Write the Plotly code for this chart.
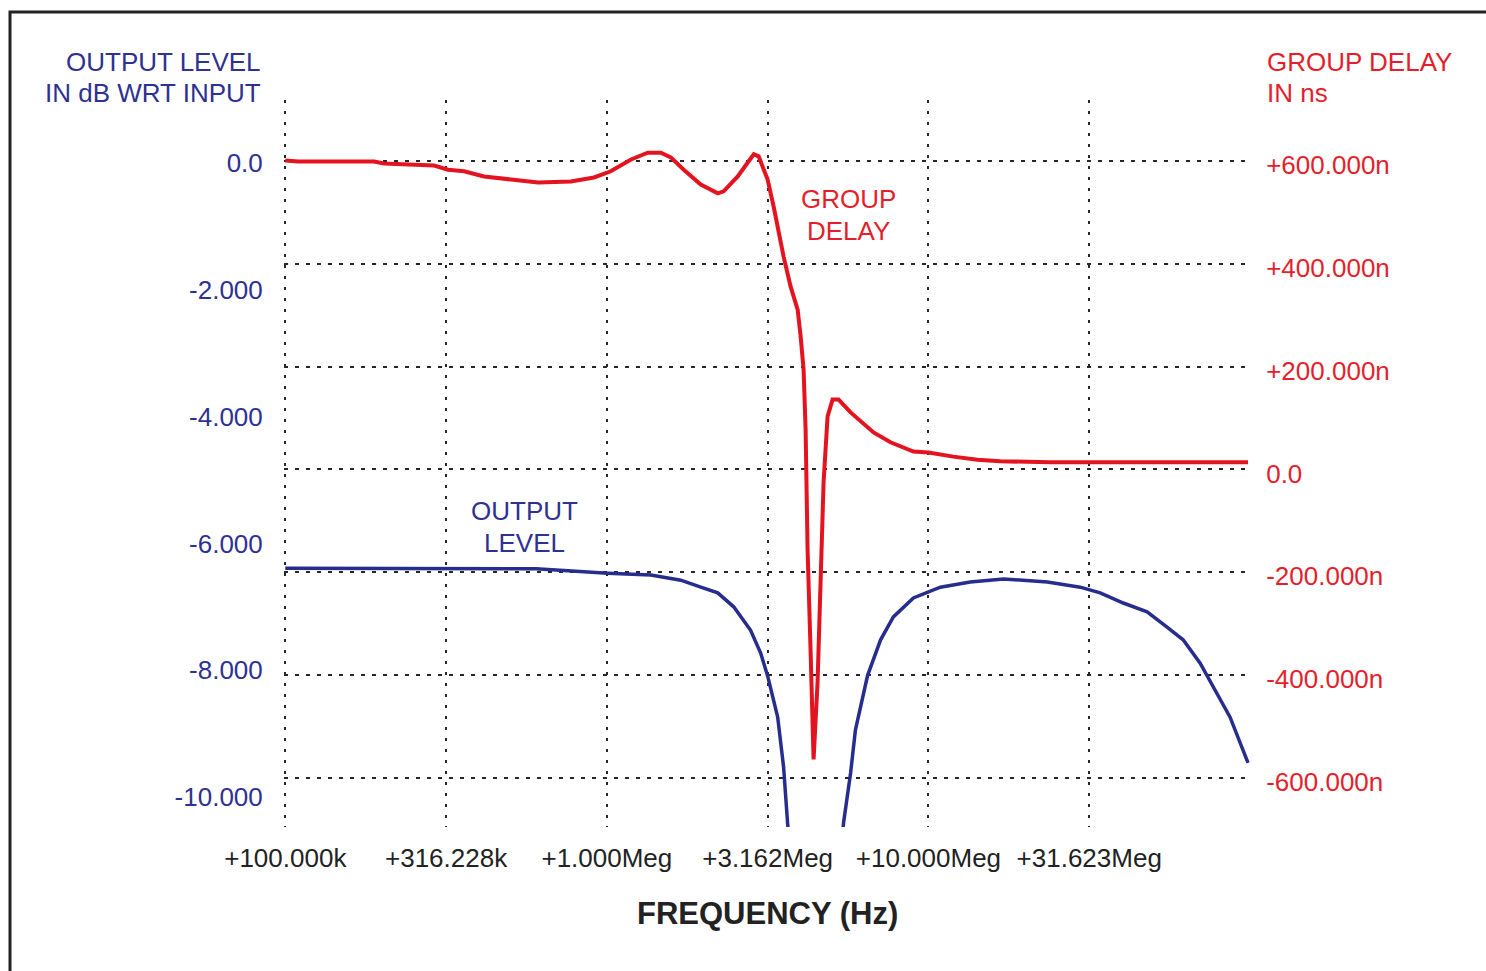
import plotly.graph_objects as go

# ---------------- data ----------------
# Output level (dB wrt input) vs frequency (Hz)
out_freq = [1.0e5, 6.026e5, 8.73e5, 1.005e6, 1.371e6, 1.698e6, 1.959e6, 2.212e6, 2.480e6,
            2.799e6, 3.008e6, 3.162e6, 3.398e6, 3.545e6, 3.648e6, 3.726e6,
            4.457e6, 5.333e6, 5.445e6, 5.727e6, 5.93e6, 6.47e6, 7.10e6, 7.78e6, 8.98e6,
            1.089e7, 1.349e7, 1.711e7, 2.344e7, 2.965e7, 3.420e7, 4.036e7, 4.786e7, 5.521e7,
            6.194e7, 6.998e7, 7.907e7, 8.67e7, 9.86e7]
out_db = [-6.39, -6.40, -6.45, -6.47, -6.50, -6.58, -6.69, -6.78, -7.00,
          -7.37, -7.73, -8.09, -8.74, -9.53, -10.41, -11.0,
          -16.0, -11.0, -10.41, -9.62, -8.94, -8.08, -7.52, -7.16, -6.86,
          -6.69, -6.61, -6.56, -6.61, -6.69, -6.78, -6.94, -7.08, -7.32,
          -7.52, -7.89, -8.36, -8.74, -9.46]

# Group delay (ns) vs frequency (Hz)
gd_freq = [1.0e5, 1.096e5, 1.888e5, 2.028e5, 2.904e5, 3.206e5, 3.597e5, 4.15e5, 5.035e5,
           6.109e5, 7.727e5, 9.12e5, 1.028e6, 1.189e6, 1.340e6, 1.472e6, 1.581e6, 1.734e6,
           1.959e6, 2.213e6, 2.307e6, 2.553e6, 2.742e6, 2.864e6, 2.965e6, 3.162e6, 3.302e6,
           3.545e6, 3.727e6, 3.920e6, 4.005e6, 4.091e6, 4.150e6, 4.209e6, 4.300e6, 4.394e6,
           4.521e6, 4.619e6, 4.720e6, 4.857e6, 5.034e6, 5.255e6, 5.727e6, 6.750e6, 7.621e6,
           8.980e6, 1.0e7, 1.196e7, 1.420e7, 1.673e7, 2.392e7, 9.858e7]
gd_ns = [601, 599, 599, 595, 591, 583, 580, 570, 564,
         558, 560, 568, 580, 603, 616, 616, 607, 583,
         554, 537, 541, 570, 597, 613, 609, 564, 511,
         414, 356, 311, 259, 194, 78, -156, -350, -564,
         -414, -220, -25, 103, 136, 136, 111, 72, 53,
         35, 33, 25, 19, 16, 14, 14]

x_tickvals = [1e5, 316228, 1e6, 3162280, 1e7, 31623000]
x_ticktext = ["+100.000k", "+316.228k", "+1.000Meg", "+3.162Meg", "+10.000Meg", "+31.623Meg"]
left_tickvals = [0, -2, -4, -6, -8, -10]
left_ticktext = ["0.0", "-2.000", "-4.000", "-6.000", "-8.000", "-10.000"]
right_tickvals = [600, 400, 200, 0, -200, -400, -600]
right_ticktext = ["+600.000n", "+400.000n", "+200.000n", "0.0", "-200.000n", "-400.000n", "-600.000n"]

# ---------------- style ----------------
W, H = 1486, 971
PL, PR, PT, PB = 284, 1250, 100, 827  # plot area in pixels
NAVY = "#2e3192"
RED = "#e41f2d"
BLUE_LINE = "#262d8c"
RED_LINE = "#e3131f"
FONT = "Liberation Sans, Arial, sans-serif"
GRID = "#262626"


def px(x):
    return (x - PL) / (PR - PL)


def py(y):
    return (PB - y) / (PB - PT)


fig = go.Figure()
fig.add_trace(go.Scatter(x=out_freq, y=out_db, mode="lines", yaxis="y",
                         line=dict(color=BLUE_LINE, width=3.5), showlegend=False))
fig.add_trace(go.Scatter(x=gd_freq, y=gd_ns, mode="lines", yaxis="y2",
                         line=dict(color=RED_LINE, width=4), showlegend=False))

ann = []


def add_text(text, x, y, color, anchor, size=26, bold=False):
    ann.append(dict(text=f"<b>{text}</b>" if bold else text, x=px(x), y=py(y),
                    xref="paper", yref="paper", showarrow=False, xanchor=anchor,
                    yanchor="middle", font=dict(family=FONT, size=size, color=color)))


add_text("OUTPUT LEVEL", 263, 62, NAVY, "right")
add_text("IN dB WRT INPUT", 263, 93, NAVY, "right")
add_text("GROUP DELAY", 1265, 62, RED, "left")
add_text("IN ns", 1265, 93, RED, "left")
add_text("GROUP", 848, 199, RED, "center")
add_text("DELAY", 848, 231, RED, "center")
add_text("OUTPUT", 524, 511, NAVY, "center")
add_text("LEVEL", 524, 543, NAVY, "center")
add_text("FREQUENCY (Hz)", 767, 913, "#222222", "center", size=31, bold=True)

fig.update_layout(
    width=W, height=H,
    margin=dict(l=PL, r=W - PR, t=PT, b=H - PB, pad=0),
    paper_bgcolor="white", plot_bgcolor="white",
    annotations=ann,
    shapes=[dict(type="rect", xref="paper", yref="paper",
                 x0=px(10), x1=px(1560), y0=py(12), y1=py(1040),
                 line=dict(color="#222222", width=3), fillcolor="rgba(0,0,0,0)", layer="below")],
    xaxis=dict(type="log", range=[4.996, 8.0], tickvals=x_tickvals, ticktext=x_ticktext,
               showgrid=True, gridcolor=GRID, gridwidth=2, griddash="3px,8px",
               zeroline=False, showline=False, ticks="outside", ticklen=8,
               tickcolor="rgba(0,0,0,0)", tickfont=dict(family=FONT, size=26, color="#222222")),
    yaxis=dict(range=[-10.473, 0.994], tickvals=left_tickvals, ticktext=left_ticktext,
               showgrid=False, zeroline=False, showline=False, ticks="outside", ticklen=15,
               tickcolor="rgba(0,0,0,0)", tickfont=dict(family=FONT, size=26, color=NAVY)),
    yaxis2=dict(range=[-695.3, 718.6], tickvals=right_tickvals, ticktext=right_ticktext,
                overlaying="y", side="right", showgrid=True, gridcolor=GRID, gridwidth=2,
                griddash="4px,7px", zeroline=False, showline=False, ticks="outside",
                ticklen=10, tickcolor="rgba(0,0,0,0)", ticklabelshift=4,
                tickfont=dict(family=FONT, size=26, color=RED)),
)

fig.write_html("out.html", config={"displayModeBar": False},
               post_script="document.body.style.margin='0';")
